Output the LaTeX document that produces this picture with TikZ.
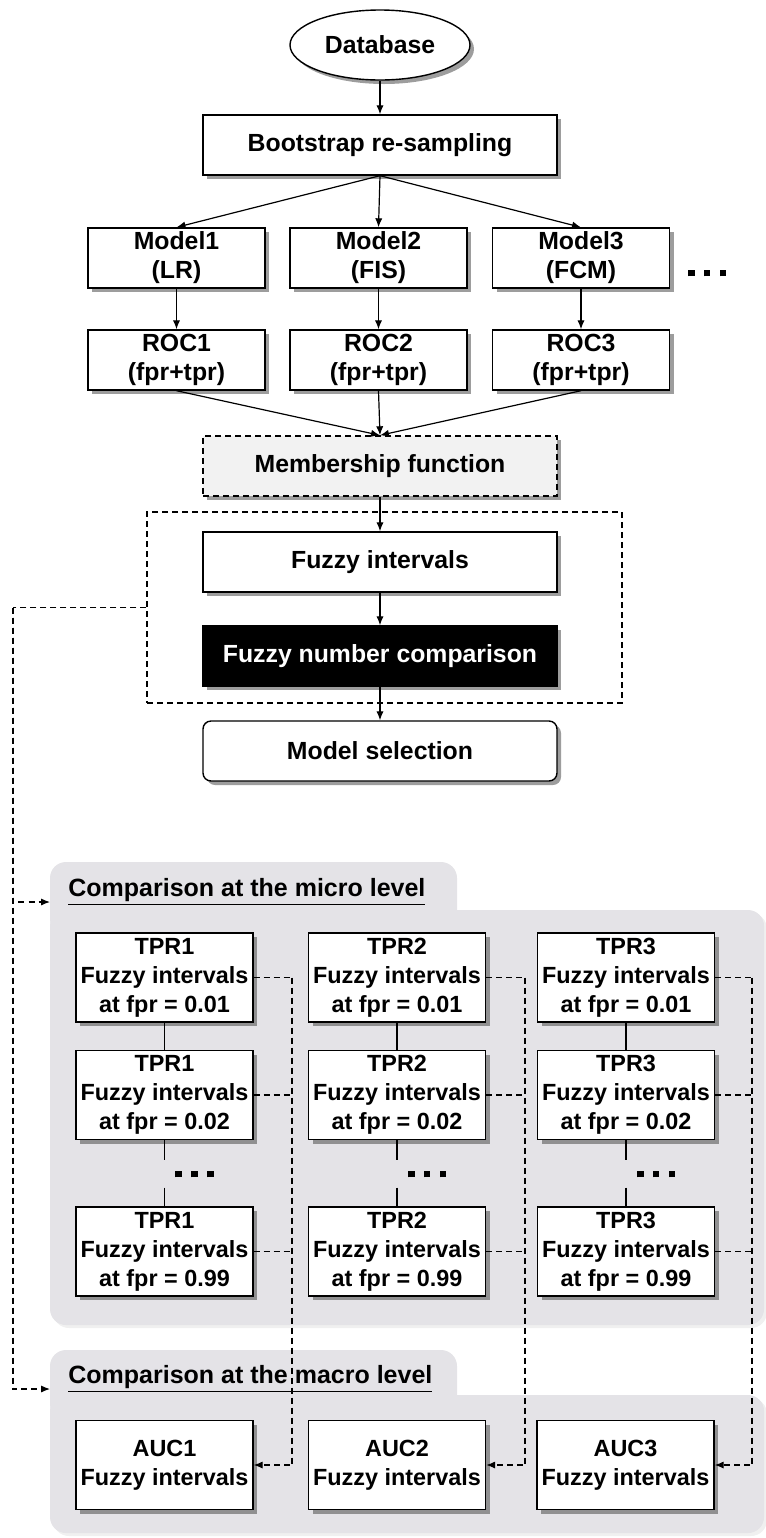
\documentclass[tikz,border=0pt]{standalone}
\usepackage{fontspec}
\setmainfont{Liberation Sans}
\usetikzlibrary{shapes.geometric,arrows.meta,shadows}
\definecolor{panelgray}{RGB}{228,227,231}
\definecolor{mfgray}{RGB}{242,242,242}
\newcommand{\sqdot}{\rule{3.3pt}{3.3pt}}
\newcommand{\threedots}{\sqdot\hspace{4.6pt}\sqdot\hspace{4.6pt}\sqdot}

\begin{document}
\begin{tikzpicture}[
    x=0.5pt, y=-0.5pt,
    boxshadow/.style={drop shadow={shadow xshift=2pt, shadow yshift=-2pt, opacity=0.55, fill=black!70}},
    panelshadow/.style={drop shadow={shadow xshift=1.5pt, shadow yshift=-1.5pt, opacity=0.12}},
    stage/.style={rectangle, draw, fill=white, line width=0.7pt, minimum width=177pt, minimum height=30pt, inner sep=1.5pt, align=center, font=\fontsize{12.4pt}{14.5pt}\selectfont\bfseries, boxshadow},
    model/.style={stage, minimum width=88.5pt},
    tpr/.style={stage, minimum width=88.5pt, minimum height=44.5pt, inner sep=1pt, font=\fontsize{11.7pt}{14.5pt}\selectfont\bfseries},
    tablabel/.style={font=\fontsize{12.5pt}{14.5pt}\selectfont\bfseries, inner sep=0pt},
    dotsnode/.style={inner xsep=0pt, inner ysep=5pt},
    arrow/.style={-{Latex[length=4.5pt,width=3.6pt]}, line width=0.6pt},
    dashline/.style={dashed, dash pattern=on 3pt off 2pt, line width=0.6pt, >={Latex[length=4.5pt,width=3.6pt]}}
  ]
    \useasboundingbox (0,0) rectangle (766,1538);

    % Grey panels for the two comparison levels
    \fill[panelgray, rounded corners=8pt, panelshadow] (50,910) rectangle (764,1325);
    \fill[panelgray, rounded corners=8pt] (50,862) rectangle (457,935);
    \fill[panelgray, rounded corners=8pt, panelshadow] (50,1395) rectangle (764,1533);
    \fill[panelgray, rounded corners=8pt] (50,1350) rectangle (457,1420);
    \node[tablabel, anchor=base west] (microlbl) at (68,896) {\underline{Comparison at the micro level}};
    \node[tablabel, anchor=base west] (macrolbl) at (68,1383) {\underline{Comparison at the macro level}};

    % Main selection flow
    \node[stage, ellipse, minimum width=90pt, minimum height=35pt] (db) at (380,45) {Database};
    \node[stage] (boot) at (380,145) {Bootstrap re-sampling};

    \node[model] (m1) at (176.5,258) {Model1\\(LR)};
    \node[model] (m2) at (378.5,258) {Model2\\(FIS)};
    \node[model] (m3) at (581,258) {Model3\\(FCM)};
    \node (mdots) at (707,273) {\threedots};

    \node[model] (r1) at (176.5,360) {ROC1\\(fpr+tpr)};
    \node[model] (r2) at (378.5,360) {ROC2\\(fpr+tpr)};
    \node[model] (r3) at (581,360) {ROC3\\(fpr+tpr)};

    \node[stage, fill=mfgray, dashed, dash pattern=on 3pt off 2pt, drop shadow={opacity=0}] (mf) at (380,466) {Membership function};
    \node[draw, dashed, dash pattern=on 3pt off 2pt, line width=0.6pt, minimum width=237.5pt, minimum height=95.5pt] (grp) at (384.5,607.5) {};
    \node[stage] (fi) at (380,562) {Fuzzy intervals};
    \node[stage, fill=black, text=white] (fnc) at (380,656) {Fuzzy number comparison};
    \node[stage, rounded corners=4pt] (ms) at (380,751) {Model selection};

    % Micro level: TPR fuzzy intervals
    \node[tpr] (t11) at (164.5,977.5) {TPR1\\Fuzzy intervals\\at fpr = 0.01};
    \node[tpr] (t12) at (164.5,1095) {TPR1\\Fuzzy intervals\\at fpr = 0.02};
    \node[tpr] (t13) at (164.5,1251.5) {TPR1\\Fuzzy intervals\\at fpr = 0.99};
    \node[tpr] (t21) at (397,977.5) {TPR2\\Fuzzy intervals\\at fpr = 0.01};
    \node[tpr] (t22) at (397,1095) {TPR2\\Fuzzy intervals\\at fpr = 0.02};
    \node[tpr] (t23) at (397,1251.5) {TPR2\\Fuzzy intervals\\at fpr = 0.99};
    \node[tpr] (t31) at (626,977.5) {TPR3\\Fuzzy intervals\\at fpr = 0.01};
    \node[tpr] (t32) at (626,1095) {TPR3\\Fuzzy intervals\\at fpr = 0.02};
    \node[tpr] (t33) at (626,1251.5) {TPR3\\Fuzzy intervals\\at fpr = 0.99};
    \node[dotsnode] (d1) at (194.5,1174) {\threedots};
    \node[dotsnode] (d2) at (427,1174) {\threedots};
    \node[dotsnode] (d3) at (656,1174) {\threedots};

    % Macro level: AUC fuzzy intervals
    \node[tpr] (a1) at (164.5,1465) {AUC1\\Fuzzy intervals};
    \node[tpr] (a2) at (397,1465) {AUC2\\Fuzzy intervals};
    \node[tpr] (a3) at (625.5,1465) {AUC3\\Fuzzy intervals};

    % Solid arrows of the flow
    \draw[arrow] (db) -- (boot);
    \draw[arrow] (boot.south) -- (m1.north);
    \draw[arrow] (boot.south) -- (m2.north);
    \draw[arrow] (boot.south) -- (m3.north);
    \draw[arrow] (m1) -- (r1);
    \draw[arrow] (m2) -- (r2);
    \draw[arrow] (m3) -- (r3);
    \draw[arrow] (r1.south) -- (mf.north);
    \draw[arrow] (r2.south) -- (mf.north);
    \draw[arrow] (r3.south) -- (mf.north);
    \draw[arrow] (mf) -- (fi);
    \draw[arrow] (fi) -- (fnc);
    \draw[arrow] (fnc) -- (ms);

    % Links inside each TPR column
    \draw[line width=0.6pt] (t11) -- (t12);
    \draw[line width=0.6pt] (t21) -- (t22);
    \draw[line width=0.6pt] (t31) -- (t32);
    \draw[line width=0.6pt] (t12.south) -- (t12.south |- d1.north);
    \draw[line width=0.6pt] (t12.south |- d1.south) -- (t13.north);
    \draw[line width=0.6pt] (t22.south) -- (t22.south |- d2.north);
    \draw[line width=0.6pt] (t22.south |- d2.south) -- (t23.north);
    \draw[line width=0.6pt] (t32.south) -- (t32.south |- d3.north);
    \draw[line width=0.6pt] (t32.south |- d3.south) -- (t33.north);

    % Dashed links from the comparison block to both levels
    \coordinate (lbus) at (13,607.5);
    \coordinate (microin) at (50,902);
    \coordinate (macroin) at (50,1389);
    \draw[dashline] (grp.west) -- (lbus);
    \draw[dashline, ->] (lbus) |- (microin);
    \draw[dashline, ->] (lbus) |- (macroin);

    % Dashed links from TPR intervals down to AUC intervals
    \coordinate (bus1) at (292,977.5);
    \coordinate (bus2) at (525,977.5);
    \coordinate (bus3) at (752,977.5);
    \draw[dashline] (t11.east) -- (bus1);
    \draw[dashline] (t12.east) -- (t12.east -| bus1);
    \draw[dashline] (t13.east) -- (t13.east -| bus1);
    \draw[dashline, ->] (bus1) |- (a1.east);
    \draw[dashline] (t21.east) -- (bus2);
    \draw[dashline] (t22.east) -- (t22.east -| bus2);
    \draw[dashline] (t23.east) -- (t23.east -| bus2);
    \draw[dashline, ->] (bus2) |- (a2.east);
    \draw[dashline] (t31.east) -- (bus3);
    \draw[dashline] (t32.east) -- (t32.east -| bus3);
    \draw[dashline] (t33.east) -- (t33.east -| bus3);
    \draw[dashline, ->] (bus3) |- (a3.east);

  \end{tikzpicture}
\end{document}
